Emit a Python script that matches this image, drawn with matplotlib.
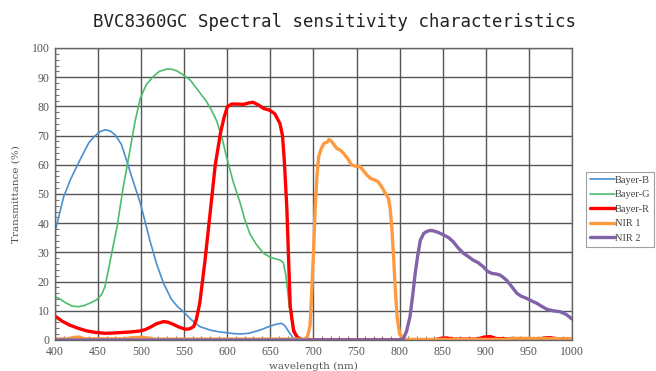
import matplotlib
matplotlib.use("Agg")
import matplotlib.pyplot as plt
from matplotlib.ticker import MultipleLocator

# ---- data ----
b_nm = [400, 405, 410, 418, 427, 433, 439, 445, 452, 458, 464, 470, 477, 483, 490, 499, 505, 510, 518, 526, 535, 542, 549, 558, 568, 580, 590, 599, 607, 615, 625, 638, 650, 658, 663, 667, 672, 677, 682, 690, 1000]
b_val = [37, 43, 49, 55, 60.5, 64, 67.4, 69.5, 71.3, 72, 71.6, 70.2, 67, 61.6, 55, 46.9, 40, 34.2, 26, 19.4, 14, 11.5, 9.7, 7, 4.6, 3.4, 2.8, 2.5, 2.2, 2.05, 2.3, 3.4, 4.8, 5.5, 5.7, 4.8, 2.5, 0.5, 0, 0, 0]

g_nm = [400, 405, 412, 420, 427, 434, 441, 448, 454, 458, 462, 466, 472, 479, 487, 493, 499, 506, 514, 521, 530, 536, 541, 548, 557, 566, 576, 582, 588, 594, 599, 607, 615, 620, 626, 633, 642, 650, 656, 661, 665, 668, 672, 676, 680, 684, 690, 1000]
g_val = [14.8, 14.2, 12.8, 11.6, 11.4, 11.8, 12.7, 13.7, 15.5, 18.3, 24, 30, 38.8, 52, 65, 75, 82.8, 87.5, 90.2, 92, 92.8, 92.7, 92.2, 91, 89, 85.5, 81.6, 78.5, 74.8, 69, 62.8, 54, 46.8, 41.5, 36.5, 33, 29.7, 28.3, 27.8, 27.4, 26.5, 22, 11.4, 5, 2, 0.5, 0, 0]

r_nm = [400, 408, 417, 427, 437, 447, 458, 468, 479, 489, 499, 505, 510, 518, 526, 531, 537, 544, 551, 556, 561, 564, 568, 574, 580, 586, 592, 596, 600, 605, 611, 619, 625, 630, 636, 642, 649, 655, 661, 664, 666, 669, 673, 677, 681, 686, 690, 840, 848, 855, 862, 890, 898, 905, 912, 960, 968, 975, 982, 1000]
r_val = [8.2, 6.5, 5.1, 4, 3.1, 2.6, 2.3, 2.4, 2.6, 2.8, 3.1, 3.6, 4.3, 5.6, 6.3, 6.1, 5.4, 4.4, 3.7, 3.8, 4.6, 7, 12.6, 27, 43.4, 60, 70.8, 76, 79.9, 80.8, 80.8, 80.7, 81.2, 81.4, 80.5, 79.3, 78.7, 77.5, 74.2, 70, 62, 45.6, 11.4, 3, 1, 0.2, 0, 0, 0.6, 0.7, 0.3, 0.3, 1.0, 1.2, 0.5, 0.3, 0.7, 0.8, 0.4, 0.3]

n1_nm = [400, 415, 422, 428, 435, 480, 490, 500, 508, 515, 690, 693, 696, 698, 700, 702, 704, 706, 709, 712, 716, 718, 721, 727, 731, 735, 740, 744, 749, 754, 758, 762, 766, 771, 775, 779, 783, 787, 789, 791, 793, 795, 797, 800, 805, 920, 930, 1000]
n1_val = [0.3, 0.4, 0.9, 1.0, 0.4, 0.4, 0.8, 0.9, 0.7, 0.3, 0.3, 1, 5, 17, 30, 45.6, 56, 62.8, 65.5, 67.3, 67.8, 68.7, 68, 65.6, 65, 63.9, 62, 60, 59.5, 59.4, 58, 56.5, 55.4, 54.8, 54.2, 52.5, 50.5, 48.5, 45, 38, 28, 17, 8, 2, 0.2, 0.2, 0.6, 0.4]

n2_nm = [400, 800, 804, 808, 812, 815, 818, 821, 824, 828, 831, 835, 839, 845, 851, 857, 862, 868, 874, 880, 885, 891, 897, 902, 907, 912, 916, 920, 924, 930, 936, 941, 947, 953, 959, 965, 971, 978, 986, 993, 1000]
n2_val = [0, 0, 0.3, 3, 8, 15, 22.8, 29, 34.2, 36.5, 37.1, 37.5, 37.4, 36.8, 36, 35, 33.7, 31.5, 29.7, 28.5, 27.4, 26.5, 25.1, 23.5, 22.8, 22.6, 22.3, 21.5, 20.5, 18.3, 16, 15, 14.3, 13.4, 12.6, 11.5, 10.5, 10, 9.7, 8.8, 7.2]

labels = ["Bayer-B", "Bayer-G", "Bayer-R", "NIR 1", "NIR 2"]
colors = ["#4a8fd0", "#4dbd6a", "#ff0000", "#ff9a40", "#8063a8"]
widths = [1.2, 1.2, 2.4, 2.4, 2.4]

x_ticks = list(range(400, 1001, 50))
y_ticks = list(range(0, 101, 10))

fig = plt.figure(figsize=(6.56, 3.71), dpi=100)
ax = fig.add_axes([55/656, 31/371, 517/656, 292/371])

series = [(b_nm, b_val), (g_nm, g_val), (r_nm, r_val), (n1_nm, n1_val), (n2_nm, n2_val)]
for (xs, ys), lab, c, w in zip(series, labels, colors, widths):
    ax.plot(xs, ys, color=c, lw=w, label=lab, solid_joinstyle="round", solid_capstyle="round")

ax.set_xlim(400, 1000)
ax.set_ylim(0, 100)
ax.set_xticks(x_ticks)
ax.set_yticks(y_ticks)
ax.xaxis.set_minor_locator(MultipleLocator(10))
ax.yaxis.set_minor_locator(MultipleLocator(2))
ax.grid(True, which="major", color="#555555", lw=1.0)
ax.set_axisbelow(True)
for s in ax.spines.values():
    s.set_color("#666666")
    s.set_linewidth(1.0)
ax.tick_params(which="major", direction="in", length=0, labelcolor="#555555", pad=4)
ax.tick_params(which="minor", direction="in", length=3, color="#777777", width=0.8)
for lab in ax.get_xticklabels() + ax.get_yticklabels():
    lab.set_fontfamily("Liberation Serif")
    lab.set_fontsize(8.5)

ax.set_xlabel("wavelength (nm)", family="DejaVu Serif", fontsize=7.5, color="#555555", labelpad=3)
ax.set_ylabel("Transmittance (%)", family="DejaVu Serif", fontsize=7.5, color="#555555", labelpad=8)

fig.text(335/656, 1 - 22/371, "BVC8360GC Spectral sensitivity characteristics",
         family="DejaVu Sans Mono", fontsize=12.5, ha="center", va="center", color="#222222")

leg = fig.legend(loc="upper left", bbox_to_anchor=(586/656, 1 - 172/371),
                 prop={"family": "Liberation Serif", "size": 7.5}, frameon=True, fancybox=False,
                 handlelength=2.4, handletextpad=0.05, borderpad=0.35, labelspacing=0.5,
                 borderaxespad=0)
leg.get_frame().set_edgecolor("#888888")
leg.get_frame().set_linewidth(0.8)
for t in leg.get_texts():
    t.set_color("#444444")

fig.savefig("out.png", dpi=100)
